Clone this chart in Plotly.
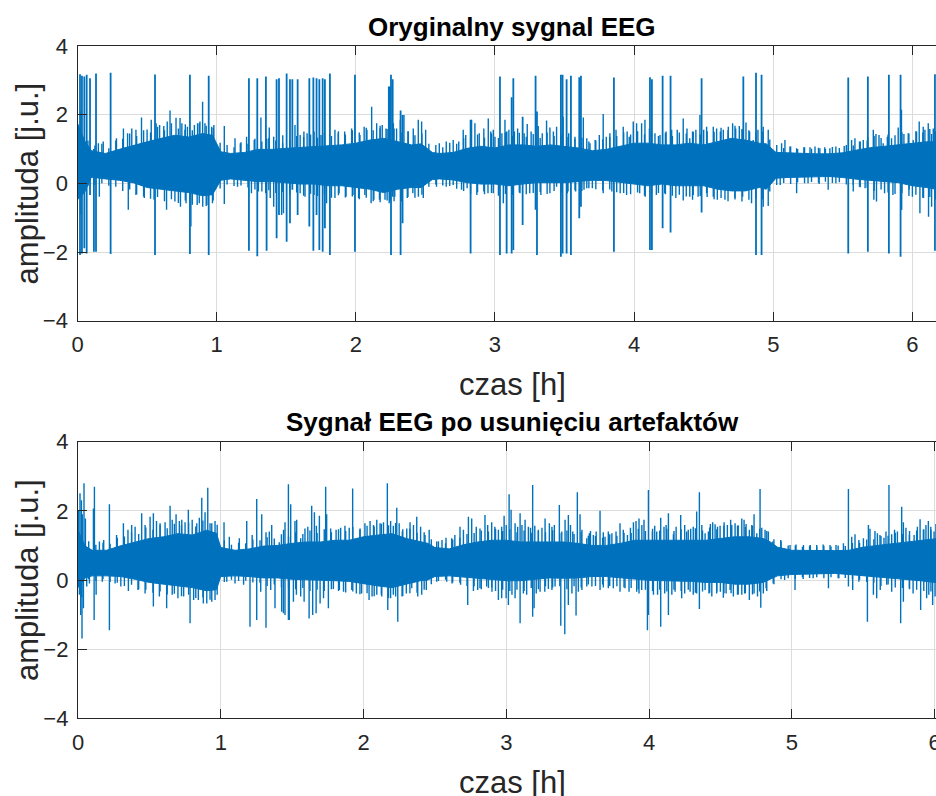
import plotly.graph_objects as go

W, H = 936, 796
BLUE = "#0072BD"
AXC = "#262626"
GRID = "#dcdcdc"
FONT = "Liberation Sans, Arial, sans-serif"
BASE = 0.5  # centre line of the EEG band

# ---------------- original signal (top panel) ----------------
# solid core of the band: time [h], upper and lower edge
top_t = [0.00, 0.05, 0.10, 0.20, 0.30, 0.40, 0.50, 0.60, 0.70, 0.80, 0.90, 0.97, 1.03, 1.10,
         1.20, 1.30, 1.40, 1.50, 1.60, 1.70, 1.80, 1.90, 2.00, 2.10, 2.20, 2.30, 2.40, 2.47,
         2.55, 2.60, 2.70, 2.80, 2.90, 3.00, 3.10, 3.20, 3.30, 3.40, 3.50, 3.60, 3.70, 3.80,
         3.90, 4.00, 4.10, 4.20, 4.30, 4.40, 4.50, 4.60, 4.70, 4.80, 4.90, 4.95, 5.02, 5.10,
         5.20, 5.30, 5.40, 5.50, 5.60, 5.70, 5.80, 5.90, 6.00, 6.10, 6.17]
top_hi = [1.75, 1.25, 0.95, 0.87, 0.99, 1.11, 1.21, 1.31, 1.40, 1.35, 1.45, 1.40, 0.92, 0.87,
          0.90, 0.99, 0.99, 1.02, 1.04, 1.08, 1.08, 1.12, 1.17, 1.26, 1.31, 1.21, 1.12, 1.15,
          0.90, 0.87, 0.90, 1.02, 1.08, 1.03, 1.12, 1.12, 1.08, 1.12, 1.08, 1.03, 0.95, 0.99,
          1.08, 1.17, 1.17, 1.12, 1.12, 1.17, 1.12, 1.21, 1.31, 1.26, 1.17, 1.15, 0.90, 0.89,
          0.87, 0.86, 0.86, 0.89, 0.97, 1.04, 1.08, 1.12, 1.17, 1.21, 1.21]
top_lo = [-0.48, -0.27, 0.18, 0.13, 0.09, 0.02, -0.12, -0.17, -0.22, -0.27, -0.36, -0.33, 0.09, 0.13,
          0.10, 0.05, 0.05, 0.02, -0.02, -0.02, -0.07, -0.07, -0.12, -0.17, -0.27, -0.17, -0.12, -0.12,
          0.11, 0.13, 0.10, 0.02, -0.02, -0.02, -0.07, -0.02, 0.02, 0.02, 0.02, 0.05, 0.09, 0.08,
          0.02, -0.02, -0.07, -0.02, -0.07, -0.07, -0.07, -0.17, -0.22, -0.22, -0.12, -0.17, 0.15, 0.17,
          0.19, 0.19, 0.20, 0.17, 0.12, 0.08, 0.05, 0.02, -0.07, -0.12, -0.17]

# ragged fringe of the band (every 0.05 h): upper and lower tips
top_fr_t = [0.025, 0.075, 0.125, 0.175, 0.225, 0.275, 0.325, 0.375, 0.425, 0.475, 0.525, 0.575,
            0.625, 0.675, 0.725, 0.775, 0.825, 0.875, 0.925, 0.975, 1.025, 1.075, 1.125, 1.175,
            1.225, 1.275, 1.325, 1.375, 1.425, 1.475, 1.525, 1.575, 1.625, 1.675, 1.725, 1.775,
            1.825, 1.875, 1.925, 1.975, 2.025, 2.075, 2.125, 2.175, 2.225, 2.275, 2.325, 2.375,
            2.425, 2.475, 2.525, 2.575, 2.625, 2.675, 2.725, 2.775, 2.825, 2.875, 2.925, 2.975,
            3.025, 3.075, 3.125, 3.175, 3.225, 3.275, 3.325, 3.375, 3.425, 3.475, 3.525, 3.575,
            3.625, 3.675, 3.725, 3.775, 3.825, 3.875, 3.925, 3.975, 4.025, 4.075, 4.125, 4.175,
            4.225, 4.275, 4.325, 4.375, 4.425, 4.475, 4.525, 4.575, 4.625, 4.675, 4.725, 4.775,
            4.825, 4.875, 4.925, 4.975, 5.025, 5.075, 5.125, 5.175, 5.225, 5.275, 5.325, 5.375,
            5.425, 5.475, 5.525, 5.575, 5.625, 5.675, 5.725, 5.775, 5.825, 5.875, 5.925, 5.975,
            6.025, 6.075, 6.125, 6.165]
top_fr_hi = [2.10, 1.25, 1.10, 1.15, 1.02, 1.25, 1.30, 1.45, 1.38, 1.55, 1.48, 1.65,
             1.55, 1.75, 1.60, 1.72, 1.55, 1.75, 1.68, 1.62, 1.18, 1.12, 1.05, 1.20,
             1.15, 1.30, 1.22, 1.32, 1.25, 1.40, 1.28, 1.38, 1.35, 1.42, 1.33, 1.48,
             1.38, 1.52, 1.42, 1.55, 1.48, 1.62, 1.55, 1.68, 1.58, 1.60, 1.48, 1.52,
             1.40, 1.45, 1.15, 1.12, 1.05, 1.18, 1.15, 1.32, 1.30, 1.42, 1.33, 1.45,
             1.32, 1.48, 1.38, 1.47, 1.36, 1.44, 1.32, 1.48, 1.38, 1.40, 1.35, 1.30,
             1.33, 1.22, 1.25, 1.28, 1.35, 1.38, 1.48, 1.42, 1.52, 1.43, 1.48, 1.38,
             1.47, 1.38, 1.48, 1.45, 1.50, 1.42, 1.52, 1.50, 1.62, 1.55, 1.68, 1.58,
             1.55, 1.48, 1.50, 1.28, 1.12, 1.03, 1.07, 1.00, 1.05, 1.01, 1.04, 1.00,
             1.06, 1.03, 1.12, 1.10, 1.22, 1.25, 1.38, 1.32, 1.42, 1.40, 1.48, 1.45,
             1.52, 1.48, 1.58, 1.52]
top_fr_lo = [-0.90, -0.08, -0.05, 0.00, -0.07, -0.10, -0.22, -0.18, -0.32, -0.38, -0.45, -0.40,
             -0.52, -0.46, -0.57, -0.50, -0.62, -0.58, -0.66, -0.50, -0.15, -0.03, -0.08, -0.06,
             -0.12, -0.18, -0.24, -0.20, -0.28, -0.25, -0.32, -0.27, -0.36, -0.30, -0.37, -0.32,
             -0.42, -0.35, -0.41, -0.38, -0.46, -0.42, -0.52, -0.55, -0.50, -0.52, -0.44, -0.40,
             -0.42, -0.33, -0.10, -0.03, -0.06, -0.08, -0.16, -0.22, -0.30, -0.26, -0.32, -0.28,
             -0.36, -0.31, -0.33, -0.27, -0.32, -0.28, -0.25, -0.31, -0.22, -0.27, -0.24, -0.20,
             -0.22, -0.14, -0.17, -0.21, -0.18, -0.26, -0.28, -0.32, -0.27, -0.36, -0.33, -0.28,
             -0.32, -0.36, -0.33, -0.38, -0.34, -0.37, -0.40, -0.46, -0.43, -0.52, -0.47, -0.53,
             -0.48, -0.44, -0.47, -0.24, -0.05, 0.01, -0.02, 0.03, 0.00, 0.04, 0.02, 0.05,
             0.01, 0.03, -0.03, -0.04, -0.11, -0.13, -0.22, -0.18, -0.27, -0.31, -0.28, -0.37,
             -0.33, -0.42, -0.40, -0.47]

# artefacts: time, upper and lower extreme
top_art_t = [0.018, 0.032, 0.049, 0.066, 0.090, 0.118, 0.133, 0.238, 0.557, 0.808, 0.943, 1.232,
             1.292, 1.354, 1.359, 1.431, 1.448, 1.503, 1.527, 1.544, 1.582, 1.666, 1.695, 1.718,
             1.738, 1.762, 1.778, 1.814, 1.994, 2.245, 2.253, 2.265, 2.322, 2.336, 2.825, 3.036,
             3.084, 3.120, 3.132, 3.199, 3.292, 3.302, 3.474, 3.486, 3.515, 3.546, 3.606, 3.618,
             3.855, 4.114, 4.128, 4.205, 4.262, 4.485, 4.785, 4.876, 4.916, 5.539, 5.680, 5.831,
             5.915, 5.920, 6.162]
top_art_hi = [3.18, 3.13, 3.11, 3.16, 3.06, 1.00, 3.20, 3.22, 3.17, 3.16, 3.13, 3.06,
              3.06, 3.11, 1.30, 3.03, 3.06, 3.20, 3.03, 3.03, 3.03, 3.06, 3.08, 3.06,
              3.03, 3.06, 3.03, 3.20, 3.16, 2.82, 3.16, 3.03, 2.12, 1.99, 1.85, 3.11,
              1.51, 2.51, 3.06, 1.94, 3.13, 2.09, 3.16, 3.16, 3.03, 3.13, 3.09, 3.13,
              3.08, 3.09, 3.03, 3.13, 3.13, 3.06, 3.11, 3.22, 3.16, 3.08, 3.11, 3.16,
              3.16, 2.14, 3.18]
top_art_lo = [-2.09, -2.04, -1.89, -2.04, -0.34, -1.99, -1.99, -2.06, -2.09, -2.06, -2.09, -1.96,
              -2.12, -0.29, -1.96, -1.60, -0.92, -1.70, -1.16, -0.19, -0.92, -1.26, -1.96, -0.92,
              -1.94, -1.99, -1.31, -2.09, -1.99, -0.50, -2.09, -0.39, -2.09, -1.16, -2.04, -2.09,
              -2.04, -2.04, -1.94, -1.21, -0.77, -2.09, -2.14, -2.04, -2.04, -2.09, -1.02, -0.68,
              -1.99, -1.94, -1.94, -1.31, -1.43, -0.85, -0.10, -2.09, -2.09, -2.04, -1.99, -2.04,
              -2.14, -0.77, -1.96]

# upward excursions above the band
top_up_t = [0.150, 0.185, 0.280, 0.330, 0.360, 0.390, 0.420, 0.460, 0.500, 0.530, 0.565, 0.590,
            0.620, 0.645, 0.665, 0.708, 0.737, 0.750, 0.772, 0.790, 0.840, 0.863, 0.880, 0.899,
            0.916, 0.964, 0.980, 1.055, 1.132, 1.170, 1.215, 1.270, 1.318, 1.378, 1.410, 1.474,
            1.563, 1.600, 1.627, 1.650, 1.700, 1.750, 1.850, 1.874, 1.920, 1.970, 2.030, 2.060,
            2.080, 2.114, 2.150, 2.174, 2.190, 2.217, 2.236, 2.270, 2.293, 2.320, 2.346, 2.377,
            2.413, 2.449, 2.473, 2.502, 2.600, 2.650, 2.700, 2.740, 2.772, 2.790, 2.832, 2.856,
            2.887, 2.920, 2.952, 2.970, 2.988, 3.000, 3.050, 3.072, 3.100, 3.140, 3.163, 3.210,
            3.232, 3.260, 3.311, 3.340, 3.371, 3.395, 3.420, 3.443, 3.490, 3.530, 3.575, 3.635,
            3.660, 3.683, 3.720, 3.750, 3.778, 3.800, 3.826, 3.870, 3.922, 3.950, 3.965, 3.994,
            4.018, 4.054, 4.078, 4.110, 4.150, 4.186, 4.230, 4.270, 4.310, 4.353, 4.380, 4.400,
            4.420, 4.444, 4.473, 4.500, 4.521, 4.569, 4.593, 4.620, 4.641, 4.677, 4.708, 4.730,
            4.756, 4.780, 4.804, 4.830, 4.856, 4.890, 4.928, 4.964, 5.060, 5.084, 5.120, 5.168,
            5.220, 5.264, 5.300, 5.335, 5.370, 5.407, 5.450, 5.510, 5.563, 5.587, 5.620, 5.647,
            5.680, 5.719, 5.738, 5.760, 5.790, 5.820, 5.850, 5.898, 5.939, 5.970, 6.006, 6.030,
            6.049, 6.078, 6.090, 6.114, 6.138, 6.150]
top_up_v = [1.17, 1.22, 1.31, 1.60, 1.46, 1.60, 1.56, 1.92, 1.57, 1.85, 1.75, 1.70,
            1.67, 1.80, 2.12, 1.91, 1.90, 1.75, 1.56, 1.65, 1.70, 1.75, 1.80, 2.38,
            1.75, 1.65, 1.70, 1.67, 1.31, 1.17, 1.36, 1.26, 1.92, 1.63, 1.36, 1.17,
            1.70, 1.41, 1.51, 1.46, 1.51, 1.41, 1.56, 1.46, 1.51, 1.60, 1.41, 1.65,
            1.56, 2.23, 1.75, 1.60, 1.70, 1.60, 2.82, 1.75, 1.60, 1.85, 1.99, 1.51,
            1.60, 1.85, 1.80, 1.56, 1.17, 1.22, 1.26, 1.22, 1.56, 1.41, 1.85, 1.75,
            1.46, 1.60, 1.89, 1.51, 1.56, 1.36, 1.46, 1.85, 1.56, 1.51, 1.60, 1.46,
            1.73, 1.51, 1.67, 1.46, 1.83, 1.63, 1.51, 1.65, 1.94, 1.46, 1.36, 1.92,
            1.31, 1.17, 1.26, 1.41, 2.02, 1.36, 1.46, 1.56, 1.65, 1.51, 1.36, 1.80,
            1.75, 1.75, 1.85, 1.60, 1.46, 1.41, 1.51, 1.56, 1.56, 1.89, 1.60, 1.31,
            1.51, 1.56, 1.99, 1.56, 1.65, 1.65, 1.60, 1.51, 1.56, 1.65, 1.75, 1.60,
            1.67, 1.56, 1.77, 1.51, 1.26, 1.56, 1.65, 1.56, 1.17, 1.26, 1.07, 1.02,
            1.05, 1.05, 1.07, 1.02, 1.05, 1.02, 1.07, 1.09, 1.26, 1.31, 1.22, 1.26,
            1.36, 1.56, 1.44, 1.41, 1.17, 1.36, 1.31, 1.63, 1.44, 1.46, 1.26, 1.51,
            1.80, 1.65, 1.56, 1.75, 1.44, 1.60]

# downward excursions below the band
top_dn_t = [0.157, 0.365, 0.420, 0.480, 0.550, 0.640, 0.700, 0.740, 0.780, 0.815, 0.860, 0.900,
            0.930, 0.970, 1.055, 1.150, 1.250, 1.300, 1.385, 1.410, 1.467, 1.480, 1.600, 1.635,
            1.700, 1.790, 1.850, 1.880, 1.930, 1.980, 2.020, 2.065, 2.110, 2.130, 2.170, 2.210,
            2.240, 2.280, 2.330, 2.370, 2.410, 2.450, 2.485, 2.580, 2.650, 2.700, 2.760, 2.800,
            2.870, 2.920, 2.950, 2.988, 3.060, 3.120, 3.180, 3.250, 3.330, 3.395, 3.443, 3.520,
            3.580, 3.640, 3.660, 3.700, 3.778, 3.840, 3.900, 3.946, 4.040, 4.080, 4.160, 4.220,
            4.300, 4.353, 4.400, 4.420, 4.460, 4.521, 4.569, 4.598, 4.653, 4.725, 4.780, 4.844,
            4.928, 4.964, 5.050, 5.168, 5.250, 5.330, 5.395, 5.450, 5.575, 5.620, 5.660, 5.723,
            5.742, 5.800, 5.860, 5.922, 5.977, 6.000, 6.054, 6.080, 6.116, 6.138]
top_dn_v = [-0.39, -0.77, -0.34, -0.43, -0.48, -0.77, -0.53, -0.68, -0.58, -1.26, -0.63, -0.68,
            -0.63, -0.58, -0.60, -0.10, -0.29, -0.24, -0.43, -0.68, -0.92, -0.87, -0.29, -0.39,
            -0.34, -0.58, -0.43, -0.29, -0.39, -0.34, -0.43, -0.34, -0.58, -0.48, -0.48, -0.48,
            -0.58, -0.39, -0.53, -0.43, -0.29, -0.39, -0.43, -0.10, -0.10, -0.05, -0.19, -0.14,
            -0.34, -0.24, -0.29, -0.29, -0.58, -0.34, -0.29, -0.29, -0.34, -0.29, -0.10, -0.29,
            -0.24, -0.19, -0.14, -0.14, -0.29, -0.24, -0.29, -0.34, -0.29, -0.39, -0.34, -0.29,
            -0.43, -0.50, -0.39, -0.48, -0.39, -0.29, -0.39, -0.48, -0.48, -0.43, -0.39, -0.58,
            -0.68, -0.66, -0.05, -0.29, 0.00, -0.02, -0.19, 0.00, -0.24, -0.10, -0.14, -0.48,
            -0.53, -0.29, -0.34, -0.77, -0.19, -0.39, -0.87, -0.43, -0.97, -0.68]

# ---------------- cleaned signal (bottom panel) ----------------
bot_t = [0.00, 0.05, 0.10, 0.20, 0.30, 0.40, 0.50, 0.60, 0.70, 0.80, 0.90, 0.97, 1.00, 1.10,
         1.20, 1.30, 1.40, 1.50, 1.60, 1.70, 1.80, 1.90, 2.00, 2.10, 2.20, 2.30, 2.40, 2.45,
         2.50, 2.60, 2.70, 2.80, 2.90, 3.00, 3.10, 3.20, 3.30, 3.40, 3.50, 3.60, 3.70, 3.80,
         3.90, 4.00, 4.10, 4.20, 4.30, 4.40, 4.50, 4.60, 4.70, 4.80, 4.85, 4.90, 5.00, 5.10,
         5.20, 5.30, 5.40, 5.50, 5.60, 5.70, 5.80, 5.90, 6.00, 6.02]
bot_hi = [1.44, 0.98, 0.86, 0.86, 0.99, 1.10, 1.20, 1.25, 1.34, 1.30, 1.44, 1.35, 0.94, 0.86,
          0.90, 0.98, 1.00, 1.06, 1.10, 1.10, 1.15, 1.15, 1.25, 1.30, 1.34, 1.20, 1.10, 1.06,
          0.94, 0.90, 1.02, 1.10, 1.15, 1.15, 1.10, 1.10, 1.10, 1.10, 1.06, 1.00, 1.00, 1.06,
          1.15, 1.15, 1.15, 1.15, 1.17, 1.15, 1.20, 1.25, 1.25, 1.20, 1.10, 0.95, 0.86, 0.85,
          0.85, 0.85, 0.86, 0.95, 1.00, 1.05, 1.10, 1.15, 1.20, 1.20]
bot_lo = [-0.22, 0.06, 0.12, 0.12, 0.10, 0.02, -0.07, -0.12, -0.17, -0.22, -0.31, -0.28, 0.10, 0.12,
          0.10, 0.06, 0.06, 0.02, 0.02, -0.01, -0.02, -0.04, -0.10, -0.17, -0.22, -0.12, -0.02, 0.00,
          0.10, 0.12, 0.10, 0.05, 0.02, -0.02, -0.02, 0.02, 0.06, 0.05, 0.06, 0.10, 0.10, 0.06,
          0.02, -0.01, -0.02, -0.02, -0.04, -0.07, -0.07, -0.12, -0.12, -0.07, 0.02, 0.12, 0.16, 0.18,
          0.18, 0.19, 0.16, 0.12, 0.10, 0.06, 0.02, -0.02, -0.07, -0.07]

bot_fr_t = [0.025, 0.075, 0.125, 0.175, 0.225, 0.275, 0.325, 0.375, 0.425, 0.475, 0.525, 0.575,
            0.625, 0.675, 0.725, 0.775, 0.825, 0.875, 0.925, 0.975, 1.025, 1.075, 1.125, 1.175,
            1.225, 1.275, 1.325, 1.375, 1.425, 1.475, 1.525, 1.575, 1.625, 1.675, 1.725, 1.775,
            1.825, 1.875, 1.925, 1.975, 2.025, 2.075, 2.125, 2.175, 2.225, 2.275, 2.325, 2.375,
            2.425, 2.475, 2.525, 2.575, 2.625, 2.675, 2.725, 2.775, 2.825, 2.875, 2.925, 2.975,
            3.025, 3.075, 3.125, 3.175, 3.225, 3.275, 3.325, 3.375, 3.425, 3.475, 3.525, 3.575,
            3.625, 3.675, 3.725, 3.775, 3.825, 3.875, 3.925, 3.975, 4.025, 4.075, 4.125, 4.175,
            4.225, 4.275, 4.325, 4.375, 4.425, 4.475, 4.525, 4.575, 4.625, 4.675, 4.725, 4.775,
            4.825, 4.875, 4.925, 4.975, 5.025, 5.075, 5.125, 5.175, 5.225, 5.275, 5.325, 5.375,
            5.425, 5.475, 5.525, 5.575, 5.625, 5.675, 5.725, 5.775, 5.825, 5.875, 5.925, 5.975,
            6.015]
bot_fr_hi = [1.90, 1.12, 1.02, 1.08, 1.05, 1.22, 1.26, 1.38, 1.33, 1.52, 1.45, 1.58,
             1.50, 1.63, 1.58, 1.66, 1.55, 1.72, 1.64, 1.60, 1.15, 1.02, 1.08, 1.06,
             1.17, 1.15, 1.24, 1.20, 1.32, 1.26, 1.38, 1.33, 1.43, 1.36, 1.47, 1.38,
             1.47, 1.42, 1.53, 1.46, 1.57, 1.55, 1.63, 1.58, 1.65, 1.47, 1.48, 1.37,
             1.38, 1.18, 1.12, 1.06, 1.17, 1.22, 1.33, 1.36, 1.43, 1.40, 1.48, 1.42,
             1.47, 1.38, 1.43, 1.37, 1.42, 1.38, 1.44, 1.36, 1.43, 1.33, 1.38, 1.28,
             1.27, 1.22, 1.32, 1.28, 1.37, 1.36, 1.48, 1.42, 1.48, 1.43, 1.48, 1.42,
             1.47, 1.45, 1.50, 1.43, 1.52, 1.47, 1.57, 1.52, 1.58, 1.53, 1.57, 1.48,
             1.42, 1.18, 1.12, 1.00, 1.00, 0.96, 0.99, 0.96, 0.99, 0.97, 1.00, 0.98,
             1.07, 1.08, 1.17, 1.18, 1.27, 1.28, 1.37, 1.33, 1.42, 1.43, 1.47, 1.45,
             1.52]
bot_fr_lo = [-0.50, 0.02, -0.02, 0.02, -0.06, -0.08, -0.17, -0.14, -0.27, -0.28, -0.37, -0.33,
             -0.42, -0.40, -0.47, -0.43, -0.52, -0.50, -0.57, -0.43, -0.06, 0.01, -0.03, -0.02,
             -0.07, -0.08, -0.17, -0.13, -0.22, -0.23, -0.27, -0.23, -0.32, -0.28, -0.32, -0.27,
             -0.32, -0.36, -0.33, -0.41, -0.38, -0.47, -0.43, -0.52, -0.48, -0.46, -0.38, -0.37,
             -0.28, -0.12, -0.03, 0.01, -0.07, -0.08, -0.17, -0.18, -0.27, -0.23, -0.32, -0.28,
             -0.32, -0.28, -0.32, -0.23, -0.27, -0.18, -0.22, -0.18, -0.27, -0.18, -0.22, -0.13,
             -0.17, -0.13, -0.17, -0.18, -0.22, -0.23, -0.27, -0.28, -0.32, -0.28, -0.33, -0.28,
             -0.32, -0.28, -0.37, -0.33, -0.37, -0.33, -0.38, -0.38, -0.42, -0.38, -0.42, -0.33,
             -0.32, -0.12, 0.02, 0.05, 0.03, 0.08, 0.06, 0.08, 0.05, 0.08, 0.05, 0.06,
             0.02, 0.01, -0.06, -0.08, -0.17, -0.13, -0.22, -0.23, -0.27, -0.28, -0.32, -0.33,
             -0.37]

bot_up_t = [0.005, 0.014, 0.024, 0.030, 0.042, 0.052, 0.108, 0.115, 0.150, 0.180, 0.220, 0.270,
            0.318, 0.350, 0.376, 0.400, 0.446, 0.470, 0.505, 0.528, 0.550, 0.575, 0.610, 0.645,
            0.660, 0.687, 0.710, 0.727, 0.750, 0.773, 0.800, 0.832, 0.850, 0.867, 0.890, 0.909,
            0.937, 0.960, 1.023, 1.060, 1.130, 1.182, 1.220, 1.252, 1.287, 1.317, 1.340, 1.357,
            1.410, 1.440, 1.450, 1.474, 1.490, 1.520, 1.532, 1.560, 1.590, 1.610, 1.637, 1.656,
            1.670, 1.691, 1.735, 1.742, 1.770, 1.808, 1.840, 1.870, 1.900, 1.924, 1.976, 2.010,
            2.046, 2.070, 2.093, 2.116, 2.140, 2.167, 2.190, 2.209, 2.233, 2.250, 2.272, 2.303,
            2.326, 2.350, 2.373, 2.400, 2.431, 2.460, 2.513, 2.550, 2.578, 2.618, 2.640, 2.676,
            2.700, 2.735, 2.758, 2.790, 2.816, 2.851, 2.870, 2.898, 2.920, 2.945, 2.968, 2.985,
            3.000, 3.020, 3.034, 3.062, 3.080, 3.097, 3.110, 3.132, 3.155, 3.170, 3.185, 3.200,
            3.225, 3.250, 3.272, 3.302, 3.320, 3.337, 3.372, 3.389, 3.412, 3.435, 3.450, 3.466,
            3.498, 3.517, 3.530, 3.564, 3.582, 3.590, 3.610, 3.630, 3.657, 3.680, 3.692, 3.715,
            3.740, 3.769, 3.797, 3.820, 3.849, 3.870, 3.891, 3.909, 3.930, 3.950, 3.965, 3.996,
            4.024, 4.040, 4.054, 4.082, 4.105, 4.120, 4.136, 4.171, 4.190, 4.222, 4.250, 4.264,
            4.292, 4.310, 4.334, 4.353, 4.370, 4.393, 4.416, 4.430, 4.446, 4.463, 4.480, 4.498,
            4.526, 4.549, 4.572, 4.580, 4.603, 4.620, 4.650, 4.666, 4.680, 4.703, 4.720, 4.736,
            4.755, 4.778, 4.790, 4.813, 4.836, 4.867, 4.923, 4.988, 5.030, 5.082, 5.130, 5.175,
            5.220, 5.268, 5.310, 5.362, 5.397, 5.420, 5.443, 5.470, 5.502, 5.537, 5.548, 5.583,
            5.600, 5.618, 5.646, 5.660, 5.681, 5.700, 5.720, 5.740, 5.770, 5.782, 5.800, 5.824,
            5.857, 5.880, 5.899, 5.922, 5.940, 5.957, 5.974, 5.997, 6.010]
bot_up_v = [2.00, 2.51, 2.31, 1.90, 2.80, 1.78, 2.07, 2.70, 1.11, 1.16, 2.19, 1.30,
            1.64, 1.45, 1.59, 1.54, 1.93, 1.59, 1.83, 1.93, 1.71, 1.64, 1.67, 2.15,
            1.74, 1.90, 1.71, 1.74, 1.67, 2.03, 1.74, 1.64, 1.80, 2.38, 1.96, 2.67,
            1.64, 1.71, 1.67, 1.25, 1.21, 1.71, 1.30, 2.34, 1.90, 1.38, 1.40, 1.59,
            1.09, 1.45, 1.67, 2.77, 2.19, 1.71, 1.74, 1.21, 1.49, 1.54, 2.15, 1.96,
            1.57, 1.86, 2.70, 1.90, 1.49, 1.45, 1.51, 1.57, 1.51, 2.65, 1.49, 1.64,
            1.71, 1.59, 1.74, 1.64, 1.67, 2.80, 1.71, 1.57, 2.09, 1.64, 1.40, 1.49,
            1.67, 1.59, 1.83, 1.54, 1.30, 1.45, 1.11, 1.16, 1.22, 1.21, 1.30, 1.54,
            1.45, 1.83, 1.78, 1.54, 1.49, 1.88, 1.59, 1.67, 1.54, 1.45, 1.54, 1.86,
            1.59, 2.48, 2.03, 1.64, 1.54, 1.93, 1.59, 1.74, 1.54, 1.51, 2.75, 1.57,
            1.45, 1.51, 1.78, 1.64, 1.54, 1.59, 2.17, 1.40, 1.74, 1.88, 1.59, 1.40,
            2.54, 1.90, 1.45, 1.21, 1.35, 1.42, 1.30, 1.40, 2.00, 1.38, 1.25, 1.40,
            1.35, 1.40, 1.64, 1.45, 1.30, 1.51, 1.67, 1.71, 1.78, 1.59, 1.74, 2.60,
            1.40, 1.57, 1.40, 1.80, 1.54, 1.59, 1.93, 1.32, 1.54, 1.88, 1.59, 1.40,
            1.48, 1.54, 1.98, 2.54, 1.59, 1.35, 1.40, 1.62, 1.67, 1.61, 1.54, 1.57,
            1.67, 1.59, 1.74, 1.59, 1.64, 1.57, 1.78, 1.74, 1.62, 1.45, 1.59, 1.90,
            1.35, 2.63, 1.51, 1.45, 1.40, 1.11, 1.16, 1.01, 1.03, 1.01, 1.01, 1.01,
            1.03, 1.01, 1.01, 1.06, 2.63, 1.25, 1.32, 1.16, 1.21, 1.59, 1.48, 1.42,
            1.35, 1.30, 1.22, 1.40, 2.75, 1.32, 1.45, 1.40, 2.12, 1.67, 1.51, 1.30,
            1.30, 1.54, 1.76, 1.45, 1.59, 1.71, 1.54, 1.40, 1.62]

bot_dn_t = [0.010, 0.019, 0.028, 0.038, 0.061, 0.080, 0.113, 0.127, 0.170, 0.220, 0.260, 0.300,
            0.353, 0.420, 0.470, 0.528, 0.570, 0.621, 0.660, 0.700, 0.740, 0.785, 0.810, 0.843,
            0.878, 0.902, 0.937, 0.960, 1.042, 1.100, 1.160, 1.205, 1.252, 1.280, 1.317, 1.350,
            1.380, 1.427, 1.439, 1.450, 1.474, 1.480, 1.509, 1.530, 1.560, 1.584, 1.619, 1.644,
            1.668, 1.696, 1.720, 1.754, 1.789, 1.831, 1.860, 1.918, 1.950, 1.987, 2.039, 2.060,
            2.093, 2.128, 2.170, 2.190, 2.209, 2.240, 2.270, 2.300, 2.338, 2.380, 2.408, 2.440,
            2.513, 2.583, 2.620, 2.680, 2.730, 2.770, 2.800, 2.816, 2.863, 2.898, 2.900, 2.945,
            2.968, 2.999, 3.015, 3.040, 3.062, 3.097, 3.120, 3.143, 3.185, 3.195, 3.210, 3.237,
            3.270, 3.295, 3.320, 3.342, 3.382, 3.410, 3.435, 3.460, 3.489, 3.505, 3.530, 3.564,
            3.600, 3.657, 3.680, 3.715, 3.750, 3.797, 3.832, 3.860, 3.914, 3.930, 3.949, 3.989,
            3.996, 4.031, 4.060, 4.082, 4.110, 4.136, 4.160, 4.183, 4.229, 4.250, 4.288, 4.310,
            4.334, 4.353, 4.393, 4.420, 4.440, 4.474, 4.500, 4.521, 4.540, 4.568, 4.591, 4.620,
            4.650, 4.670, 4.703, 4.736, 4.760, 4.783, 4.801, 4.820, 4.870, 4.950, 5.023, 5.080,
            5.150, 5.257, 5.330, 5.397, 5.427, 5.470, 5.530, 5.572, 5.595, 5.620, 5.665, 5.700,
            5.763, 5.782, 5.824, 5.850, 5.903, 5.945, 5.960, 5.987, 6.004]
bot_dn_v = [-0.43, -1.01, -1.69, -0.82, -0.19, -0.10, -1.16, -0.43, -0.05, -1.45, -0.10, -0.19,
            -0.32, -0.29, -0.39, -0.77, -0.48, -0.82, -0.43, -0.53, -0.48, -1.25, -0.58, -0.58,
            -0.68, -0.68, -0.63, -0.58, -0.05, -0.10, -0.14, -1.35, -1.16, -0.34, -1.38, -0.29,
            -0.82, -0.92, -0.96, -1.01, -1.16, -1.16, -0.63, -0.43, -0.48, -0.63, -1.11, -1.01,
            -0.96, -0.68, -0.53, -0.82, -0.26, -0.29, -0.34, -0.29, -0.39, -0.39, -0.58, -0.48,
            -0.43, -0.48, -0.87, -0.53, -0.43, -1.21, -0.48, -0.39, -0.24, -0.48, -0.43, -0.29,
            -0.05, -0.05, -0.10, -0.14, -0.72, -0.32, -0.29, -0.24, -0.19, -0.22, -0.34, -0.58,
            -0.53, -0.53, -0.72, -0.43, -0.53, -1.25, -0.39, -0.43, -1.06, -0.82, -0.39, -0.34,
            -0.34, -0.26, -0.29, -0.19, -1.32, -1.57, -0.72, -0.39, -1.03, -0.34, -0.29, -0.19,
            -0.19, -0.29, -0.22, -0.24, -0.24, -0.34, -0.24, -0.34, -0.34, -0.39, -0.29, -1.45,
            -1.01, -0.43, -0.43, -1.35, -0.39, -1.01, -0.43, -0.34, -0.53, -0.39, -0.34, -0.43,
            -0.39, -0.84, -0.29, -0.39, -0.48, -0.39, -0.34, -0.51, -0.39, -0.29, -0.48, -0.43,
            -0.43, -0.39, -0.58, -0.39, -0.48, -0.80, -0.39, -0.24, -0.10, 0.00, -0.29, 0.03,
            0.05, -0.24, 0.05, -0.19, -0.29, -0.05, -1.21, -0.43, -0.53, -0.29, -0.14, -0.34,
            -1.25, -0.63, -0.24, -0.39, -0.87, -0.53, -0.43, -0.72, -0.48]

x_ticks = [0, 1, 2, 3, 4, 5, 6]
y_ticks = [-4, -2, 0, 2, 4]


def band(t, hi, lo, xa, ya):
    xs = list(t) + list(reversed(t))
    ys = list(hi) + list(reversed(lo))
    return go.Scatter(x=xs, y=ys, mode="lines", fill="toself", fillcolor=BLUE,
                      line=dict(color=BLUE, width=1), xaxis=xa, yaxis=ya,
                      hoverinfo="skip", showlegend=False)


def segments(ts, tops, bottoms, xa, ya, width):
    xs, ys = [], []
    for t, a, b in zip(ts, tops, bottoms):
        xs += [t, t, None]
        ys += [a, b, None]
    return go.Scatter(x=xs, y=ys, mode="lines", line=dict(color=BLUE, width=width),
                      xaxis=xa, yaxis=ya, hoverinfo="skip", showlegend=False)


fig = go.Figure()
panels = [
    dict(t=top_t, hi=top_hi, lo=top_lo, fr=(top_fr_t, top_fr_hi, top_fr_lo),
         art=(top_art_t, top_art_hi, top_art_lo), up=(top_up_t, top_up_v),
         dn=(top_dn_t, top_dn_v), xa="x", ya="y"),
    dict(t=bot_t, hi=bot_hi, lo=bot_lo, fr=(bot_fr_t, bot_fr_hi, bot_fr_lo),
         art=None, up=(bot_up_t, bot_up_v), dn=(bot_dn_t, bot_dn_v), xa="x2", ya="y2"),
]
for p in panels:
    xa, ya = p["xa"], p["ya"]
    fig.add_trace(band(p["t"], p["hi"], p["lo"], xa, ya))
    fig.add_trace(segments(*p["fr"], xa, ya, 1.4))
    fig.add_trace(segments(p["up"][0], p["up"][1], [BASE] * len(p["up"][0]), xa, ya, 1.4))
    fig.add_trace(segments(p["dn"][0], [BASE] * len(p["dn"][0]), p["dn"][1], xa, ya, 1.4))
    if p["art"] is not None:
        fig.add_trace(segments(*p["art"], xa, ya, 1.8))

# panel geometry in pixels
TOP = dict(left=77.5, top=46, bottom=320.7, xmax=(936 - 77.5) / 139.15)
BOT = dict(left=78.0, top=441.7, bottom=718.3, xmax=(936 - 78.0) / 142.75)

tickfont = dict(family=FONT, size=22, color=AXC)


def xaxis(p, anchor):
    return dict(domain=[p["left"] / W, 1], range=[0, p["xmax"]], anchor=anchor,
                tickvals=x_ticks, ticks="inside", ticklen=9, tickwidth=1.3, tickcolor=AXC,
                showline=True, linecolor=AXC, linewidth=1.3, mirror="ticks",
                showgrid=True, gridcolor=GRID, gridwidth=1, zeroline=False,
                tickfont=tickfont, ticklabelstandoff=4, ticklabeloverflow="allow",
                automargin=False)


def yaxis(p, anchor):
    return dict(domain=[1 - p["bottom"] / H, 1 - p["top"] / H], range=[-4, 4], anchor=anchor,
                tickvals=y_ticks, ticks="inside", ticklen=9, tickwidth=1.3, tickcolor=AXC,
                showline=True, linecolor=AXC, linewidth=1.3, mirror=False,
                showgrid=True, gridcolor=GRID, gridwidth=1, zeroline=False,
                tickfont=tickfont, ticklabelstandoff=4, automargin=False)


fig.update_layout(
    width=W, height=H, margin=dict(l=0, r=0, t=0, b=0, autoexpand=False),
    paper_bgcolor="white", plot_bgcolor="white",
    xaxis=xaxis(TOP, "y"), yaxis=yaxis(TOP, "x"),
    xaxis2=xaxis(BOT, "y2"), yaxis2=yaxis(BOT, "x2"),
)

CX = 512 / W


def ann(text, x, y, size, bold=False, angle=0, color=AXC):
    fig.add_annotation(text=f"<b>{text}</b>" if bold else text, x=x, y=y,
                       xref="paper", yref="paper", xanchor="center", yanchor="middle",
                       showarrow=False, textangle=angle,
                       font=dict(family=FONT, size=size, color=color))


ann("Oryginalny sygnal EEG", CX, 1 - 27 / H, 26, bold=True, color="#000000")
ann("Sygnał EEG po usunięciu artefaktów", CX, 1 - 422 / H, 26, bold=True, color="#000000")
ann("czas [h]", CX, 1 - 384 / H, 31)
ann("czas [h]", CX, 1 - 782 / H, 31)
ann("amplituda [j.u.]", 27 / W, 1 - 183.4 / H, 31, angle=-90)
ann("amplituda [j.u.]", 27 / W, 1 - 580 / H, 31, angle=-90)

fig.write_html("out.html")
